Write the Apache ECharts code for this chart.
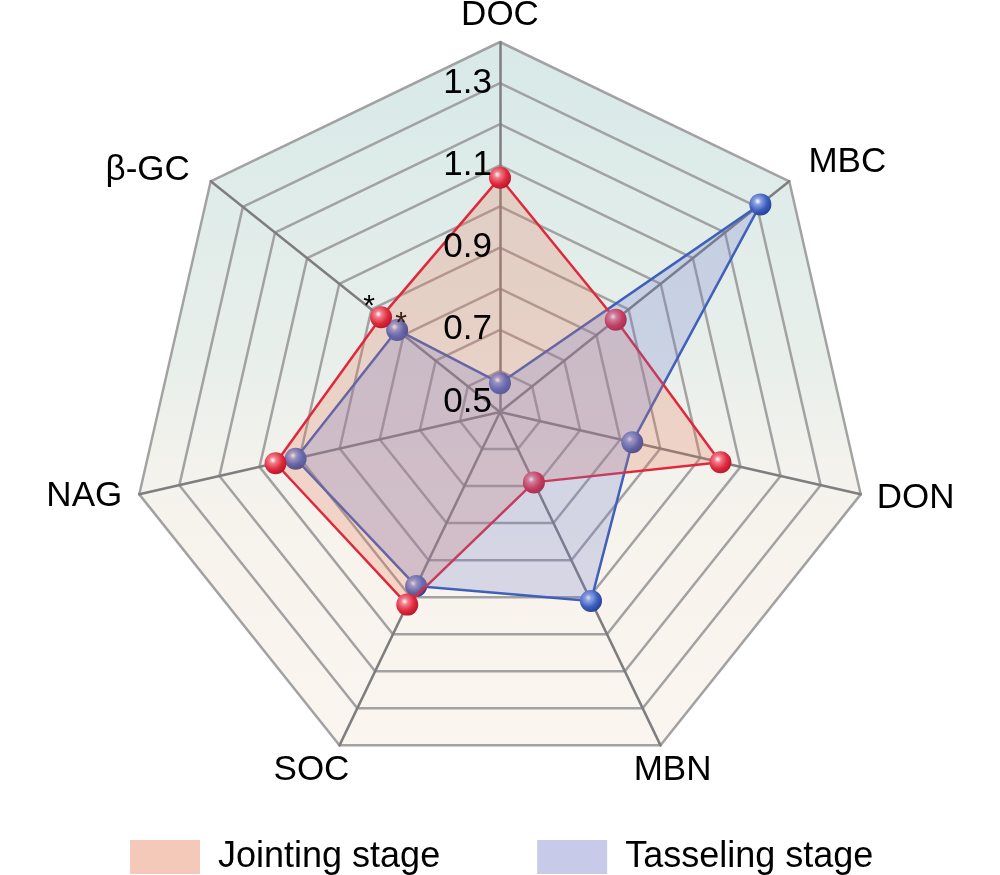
<!DOCTYPE html>
<html>
<head>
<meta charset="utf-8">
<script src="https://cdn.jsdelivr.net/npm/echarts@6/dist/echarts.min.js"></script>
<style>
html,body{margin:0;padding:0;background:#fff;}
#chart{width:1000px;height:875px;}
</style>
</head>
<body>
<div id="chart"></div>
<script>
// ---- data (clockwise from top, as in the reference) ----
const indicators = ['DOC', 'MBC', 'DON', 'MBN', 'SOC', 'NAG', 'β-GC'];
const axisMin = 0.5;
const axisMax = 1.4;
const tickLabels = ['0.5', '0.7', '0.9', '1.1', '1.3'];
const seriesNames = ['Jointing stage', 'Tasseling stage'];
const jointing = [1.07, 0.86, 1.05, 0.69, 1.02, 1.06, 0.87];
const tasseling = [0.57, 1.31, 0.83, 1.01, 0.97, 1.01, 0.82];
const starCategory = 'β-GC'; // marked with *

// ---- styling ----
const FONT = 'Arial, "Liberation Sans", Helvetica, sans-serif';
const CX = 500, CY = 412, R = 370;
// label centre offsets (px) from each axis end
const nameOffsets = {
  'DOC': [0, -27], 'MBC': [58, -19], 'DON': [55, 4], 'MBN': [12, 25],
  'SOC': [-28, 25], 'NAG': [-55, 2], 'β-GC': [-63, -11]
};

// ECharts lays indicators counter-clockwise; reorder so they read clockwise
const order = [0].concat(indicators.map((_, i) => i).slice(1).reverse());
const reorder = arr => order.map(i => arr[i]);
const starIdx = indicators.indexOf(starCategory);

function sphere(c0, c1, c2, c3) {
  return {
    type: 'radial', x: 0.38, y: 0.36, r: 0.7,
    colorStops: [
      {offset: 0, color: c0},
      {offset: 0.22, color: c1},
      {offset: 0.62, color: c2},
      {offset: 1, color: c3}
    ]
  };
}
const redSphere = sphere('#ffffff', '#f07d8a', '#e0283c', '#b0162a');
const blueSphere = sphere('#ffffff', '#8aa2e4', '#3a5cbc', '#223f8e');

function starFormatter(values) {
  return function (p) {
    return p.value === values[starIdx] ? '*' : '';
  };
}

// rich styles that move each axis name to its place
const nameRich = {};
indicators.forEach((n, i) => {
  const [dx, dy] = nameOffsets[n];
  nameRich['n' + i] = {
    fontSize: 35, fontFamily: FONT, color: '#000',
    padding: [dy > 0 ? 2 * dy : 0, dx < 0 ? -2 * dx : 0, dy < 0 ? -2 * dy : 0, dx > 0 ? 2 * dx : 0]
  };
});

const chart = echarts.init(document.getElementById('chart'), null, {renderer: 'canvas'});

const baseIndicators = reorder(indicators).map(name => ({name: name, min: axisMin, max: axisMax}));
const labelIndicators = reorder(indicators).map((name, i) => ({
  name: name, min: axisMin, max: axisMax,
  axisLabel: i === 0 ? {
    show: true,
    fontSize: 35,
    fontFamily: FONT,
    color: '#000',
    margin: 8,
    formatter: function (v) {
      const s = Number(v).toFixed(1);
      if (tickLabels.indexOf(s) < 0) return '';
      return s === tickLabels[0] ? '{lo|' + s + '}' : s;
    },
    rich: {lo: {fontSize: 35, fontFamily: FONT, color: '#000', padding: [0, 0, 20, 0]}}
  } : {show: false}
}));

const option = {
  animation: false,
  backgroundColor: '#ffffff',
  legend: {
    left: 125,
    top: 834,
    icon: 'rect',
    itemWidth: 70,
    itemHeight: 34,
    itemGap: 97,
    selectedMode: false,
    itemStyle: {borderWidth: 0},
    textStyle: {fontSize: 36, fontFamily: FONT, color: '#000', padding: [0, 0, 0, 13]},
    data: [
      {name: seriesNames[0], itemStyle: {color: '#f5c9b9', borderWidth: 0}},
      {name: seriesNames[1], itemStyle: {color: '#c8cae9', borderWidth: 0}}
    ]
  },
  radar: [
    {
      center: [CX, CY],
      radius: R,
      startAngle: 90,
      shape: 'polygon',
      splitNumber: 9,
      indicator: baseIndicators,
      nameGap: 0,
      axisName: {
        color: '#000', fontSize: 35, fontFamily: FONT,
        align: 'center', verticalAlign: 'middle',
        formatter: function (name) {
          return '{n' + indicators.indexOf(name) + '|' + name + '}';
        },
        rich: nameRich
      },
      axisLine: {lineStyle: {color: '#7e7e7e', width: 2.5}},
      splitLine: {lineStyle: {color: '#a2a2a2', width: 2.5}},
      splitArea: {
        show: true,
        areaStyle: {
          color: [{
            type: 'linear', x: 0, y: CY - R, x2: 0, y2: CY + R * 0.9, global: true,
            colorStops: [
              {offset: 0, color: '#d7e9e8'},
              {offset: 0.45, color: '#e8efeb'},
              {offset: 0.6, color: '#f3f2ec'},
              {offset: 0.75, color: '#f8f4ed'},
              {offset: 1, color: '#faf5ef'}
            ]
          }]
        }
      },
      axisLabel: {show: false}
    },
    {
      // overlay radar that only carries the tick labels, above the series
      z: 20,
      center: [CX, CY],
      radius: R,
      startAngle: 90,
      shape: 'polygon',
      splitNumber: 9,
      indicator: labelIndicators,
      axisName: {show: false},
      axisLine: {show: false},
      axisTick: {show: false},
      splitLine: {show: false},
      splitArea: {show: false}
    }
  ],
  series: [
    {
      // Tasseling: lines & markers (bottom layer)
      type: 'radar', name: seriesNames[1], z: 2, radarIndex: 0,
      symbol: 'circle', symbolSize: 22,
      lineStyle: {color: '#3a5cb8', width: 2.5},
      itemStyle: {color: blueSphere, borderWidth: 0},
      label: {
        show: true, formatter: starFormatter(tasseling),
        position: 'top', distance: 0, offset: [4, 20],
        fontSize: 30, fontFamily: FONT, color: '#000'
      },
      data: [{value: reorder(tasseling), name: seriesNames[1]}]
    },
    {
      // Jointing: fill
      type: 'radar', name: seriesNames[0], z: 3, radarIndex: 0,
      symbol: 'none',
      lineStyle: {width: 0, opacity: 0},
      areaStyle: {color: 'rgba(232,118,88,0.36)'},
      data: [{value: reorder(jointing), name: seriesNames[0]}]
    },
    {
      // Jointing: lines & markers
      type: 'radar', name: seriesNames[0], z: 4, radarIndex: 0,
      symbol: 'circle', symbolSize: 22,
      lineStyle: {color: '#e0283c', width: 2.5},
      itemStyle: {color: redSphere, borderWidth: 0},
      label: {
        show: true, formatter: starFormatter(jointing),
        position: 'top', distance: 0, offset: [-12, 16],
        fontSize: 30, fontFamily: FONT, color: '#000'
      },
      data: [{value: reorder(jointing), name: seriesNames[0]}]
    },
    {
      // Tasseling: fill (top layer)
      type: 'radar', name: seriesNames[1], z: 5, radarIndex: 0,
      symbol: 'none',
      lineStyle: {width: 0, opacity: 0},
      areaStyle: {color: 'rgba(112,122,202,0.36)'},
      data: [{value: reorder(tasseling), name: seriesNames[1]}]
    }
  ]
};

chart.setOption(option);
</script>
</body>
</html>
